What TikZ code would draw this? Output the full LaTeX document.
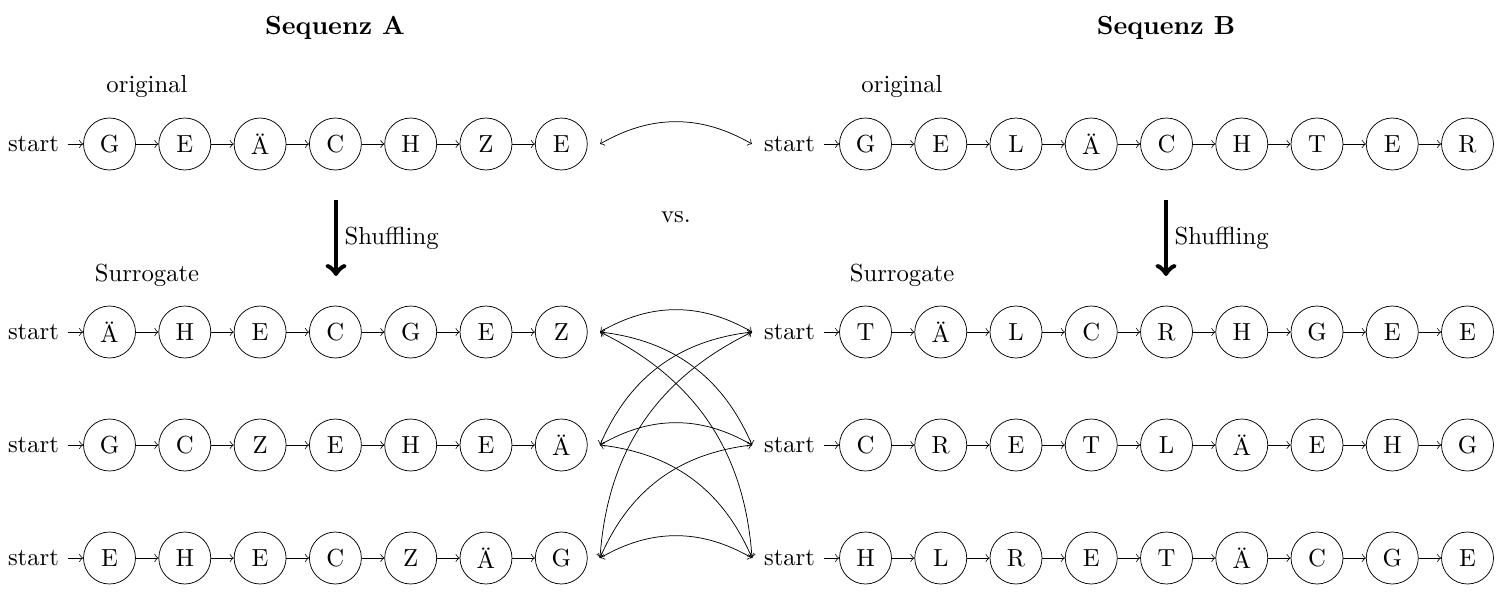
\documentclass[tikz,border=0pt]{standalone}
\usepackage{fontspec}
\begin{document}
\begin{tikzpicture}[x=0.01423cm,y=-0.01423cm,line width=0.3pt,
  state/.style={circle,draw,minimum size=0.74cm,inner sep=0pt},
  link/.style={->},
  swapline/.style={<->,bend left=30},
  shuffle/.style={->,line width=2pt},
  title/.style={font=\bfseries\fontsize{10.6pt}{13pt}\selectfont},
  lbl/.style={}]
\useasboundingbox (0,0) rectangle (1500,600);
% titles
\node[title] (ta) at (335,28) {Sequenz A};
\node[title] (tb) at (1166,28) {Sequenz B};
\node[lbl] (oa) at (147,86) {original};
\node[lbl] (ob) at (902,86) {original};
\node[lbl] (sua) at (147,275) {Surrogate};
\node[lbl] (sub) at (902,275) {Surrogate};
\node[lbl] (vs) at (676,217) {vs.};
% sequence A rows
\foreach \r/\yy/\seq in {0/144/{G,E,Ä,C,H,Z,E},1/332/{Ä,H,E,C,G,E,Z},2/445/{G,C,Z,E,H,E,Ä},3/558/{E,H,E,C,Z,Ä,G}} {
  \node (as\r) at (33.5,\yy) {start};
  \foreach \l [count=\i] in \seq {
    \node[state] (a\r x\i) at ({109.5+75.3*(\i-1)},\yy) {\l};
  }
  \draw[link] (as\r) -- (a\r x1);
  \foreach \i [evaluate=\i as \j using int(\i+1)] in {1,...,6} \draw[link] (a\r x\i) -- (a\r x\j);
  \coordinate (ae\r) at (600,\yy);
}
% sequence B rows
\foreach \r/\yy/\seq in {0/144/{G,E,L,Ä,C,H,T,E,R},1/332/{T,Ä,L,C,R,H,G,E,E},2/445/{C,R,E,T,L,Ä,E,H,G},3/558/{H,L,R,E,T,Ä,C,G,E}} {
  \node (bs\r) at (789.5,\yy) {start};
  \foreach \l [count=\i] in \seq {
    \node[state] (b\r x\i) at ({865.5+75.25*(\i-1)},\yy) {\l};
  }
  \draw[link] (bs\r) -- (b\r x1);
  \foreach \i [evaluate=\i as \j using int(\i+1)] in {1,...,8} \draw[link] (b\r x\i) -- (b\r x\j);
  \coordinate (be\r) at (752,\yy);
}
% comparisons
\draw[swapline] (ae0) to (be0);
\foreach \p in {1,2,3} {
  \foreach \q in {1,2,3} {
    \draw[swapline] (ae\p) to (be\q);
  }
}
% shuffling arrows
\coordinate (sa1) at (336,200);
\coordinate (sa2) at (336,276);
\coordinate (sb1) at (1166,200);
\coordinate (sb2) at (1166,276);
\draw[shuffle] (sa1) -- (sa2) node[midway,right,inner sep=2.5pt] (sha) {Shuffling};
\draw[shuffle] (sb1) -- (sb2) node[midway,right,inner sep=2.5pt] (shb) {Shuffling};
\end{tikzpicture}
\end{document}
